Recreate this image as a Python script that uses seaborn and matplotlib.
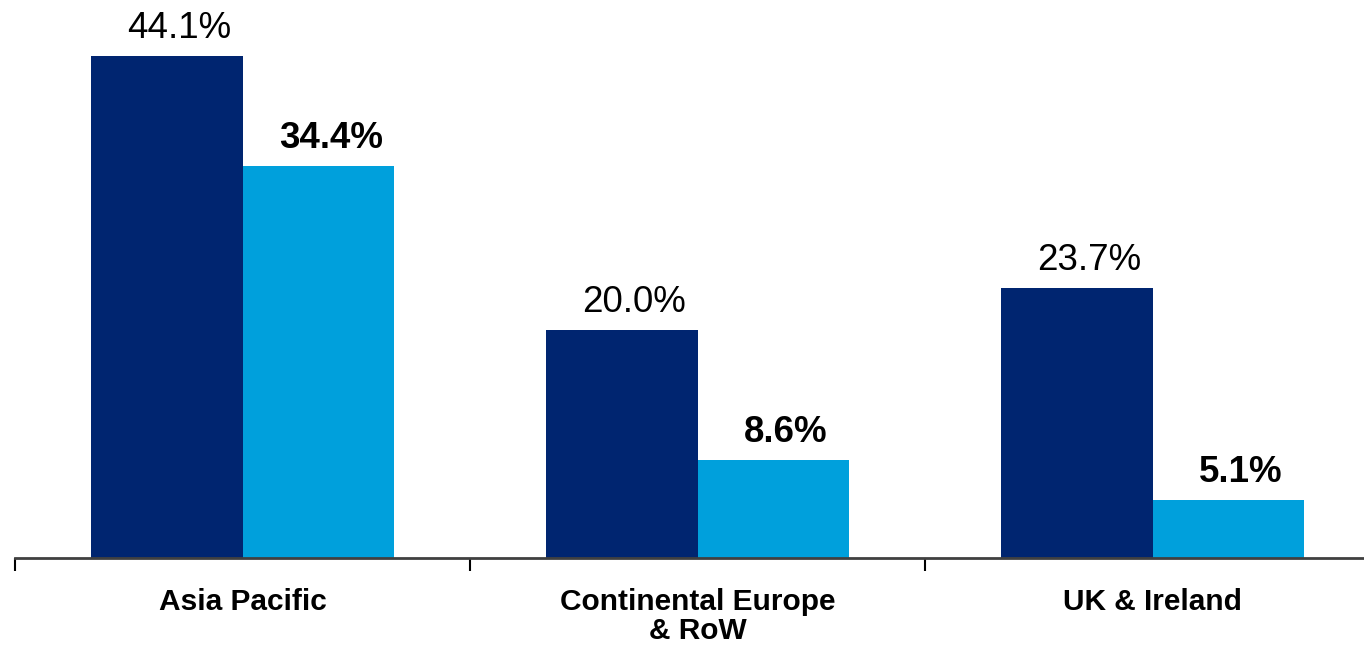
import matplotlib
matplotlib.use("Agg")
import matplotlib.pyplot as plt
import seaborn as sns
import pandas as pd

categories = ["Asia Pacific", "Continental Europe\n& RoW", "UK & Ireland"]
series_names = ["A", "B"]
values_a = [44.1, 20.0, 23.7]
values_b = [34.4, 8.6, 5.1]
colors = ["#002570", "#00A0DC"]

df = pd.DataFrame({
    "category": categories * 2,
    "series": [series_names[0]] * 3 + [series_names[1]] * 3,
    "value": values_a + values_b,
})

sns.set_style("white")
plt.rcParams["font.family"] = ["Liberation Sans", "DejaVu Sans"]

fig = plt.figure(figsize=(13.64, 6.47), dpi=100)
ax = fig.add_axes([15 / 1364, 1 - 558 / 647, 1365 / 1364, 558 / 647])

sns.barplot(data=df, x="category", y="value", hue="series", palette=colors,
            width=0.666, gap=0, dodge=True, ax=ax, legend=False,
            saturation=1, linewidth=0, errorbar=None)

ax.set_xlim(-0.5, 2.5)
ax.set_ylim(0, 49.02)
ax.set_xlabel("")
ax.set_ylabel("")
ax.set_yticks([])

for s in ["top", "right", "left"]:
    ax.spines[s].set_visible(False)
ax.spines["bottom"].set_color("#404040")
ax.spines["bottom"].set_linewidth(2)

ax.set_xticks([0, 1, 2])
ax.set_xticklabels(categories, fontsize=21.5, fontweight="bold", linespacing=1.04,
                   color="black")
ax.tick_params(axis="x", which="major", length=0, pad=21.5, bottom=True)
ax.set_xticks([-0.5, 0.5, 1.5], minor=True)
ax.tick_params(axis="x", which="minor", length=9, width=1.5, color="black",
               direction="out", bottom=True)

for i, container in enumerate(ax.containers):
    vals = values_a if i == 0 else values_b
    weight = "normal" if i == 0 else "bold"
    for bar, v in zip(container, vals):
        ax.annotate(f"{v:.1f}%", (bar.get_x() + bar.get_width() / 2, bar.get_height()),
                    xytext=(9, 13), textcoords="offset points",
                    ha="center", va="baseline", fontsize=26.5, fontweight=weight,
                    color="black")

fig.savefig("out.png", dpi=100)
